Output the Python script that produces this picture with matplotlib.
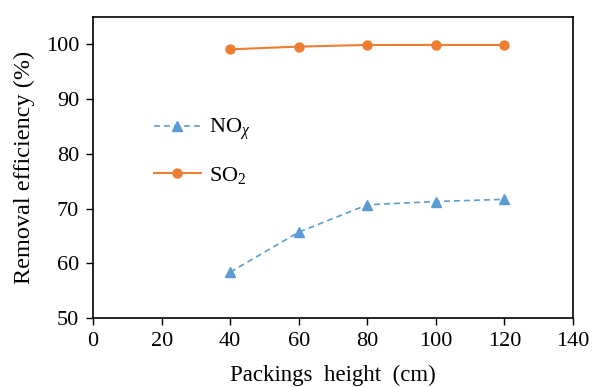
import matplotlib
matplotlib.use("Agg")
import matplotlib.pyplot as plt

heights = [40, 60, 80, 100, 120]
nox = [58.4, 65.7, 70.7, 71.3, 71.7]
so2 = [99.1, 99.6, 99.9, 99.9, 99.9]
xticks = [0, 20, 40, 60, 80, 100, 120, 140]
yticks = [50, 60, 70, 80, 90, 100]

plt.rcParams['font.family'] = ['Liberation Serif', 'DejaVu Serif']
plt.rcParams['mathtext.fontset'] = 'custom'
plt.rcParams['mathtext.rm'] = 'Liberation Serif'
plt.rcParams['mathtext.it'] = 'Liberation Serif:italic'

fig = plt.figure(figsize=(5.93, 3.87), dpi=100)
ax = fig.add_axes([0.157, 0.178, 0.809, 0.778])

ax.plot(heights, nox, color='#5B9BD5', linestyle=(0, (3.5, 2.5)), linewidth=1.2,
        marker='^', markersize=6.5, label='NO$_{\\chi}$')
ax.plot(heights, so2, color='#ED7D31', linestyle='-', linewidth=1.5,
        marker='o', markersize=6.5, label='SO$_2$')

ax.set_xlim(0, 140)
ax.set_ylim(50, 105)
ax.set_xticks(xticks)
ax.set_yticks(yticks)
ax.tick_params(axis='both', direction='out', labelsize=16, length=5, width=1, colors='black', pad=5)
for s in ax.spines.values():
    s.set_linewidth(1.2)
ax.set_xlabel('Packings  height  (cm)', fontsize=16.5, labelpad=0)
ax.xaxis.set_label_coords(0.5, -0.155)
ax.set_ylabel('Removal efficiency (%)', fontsize=17.5, labelpad=8)

leg = ax.legend(loc='upper left', bbox_to_anchor=(0.085, 0.735), frameon=False,
                fontsize=16, handlelength=2.1, handletextpad=0.4, labelspacing=1.0)

fig.savefig('out.png', dpi=100)
